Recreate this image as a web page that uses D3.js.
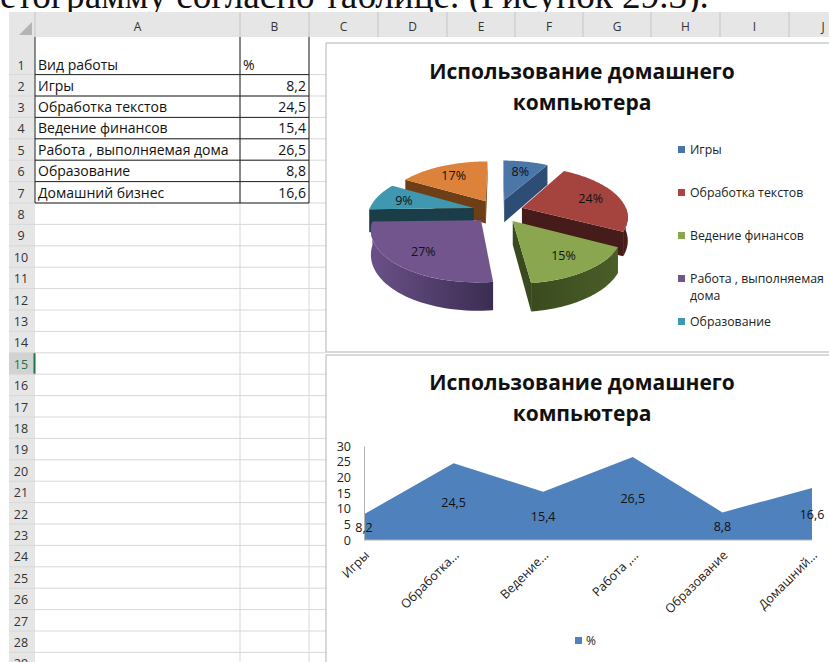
<!DOCTYPE html>
<html>
<head>
<meta charset="utf-8">
<script src="https://cdn.jsdelivr.net/npm/d3@7"></script>
<style>
  html, body { margin: 0; padding: 0; background: #fff; overflow: hidden; }
  text { font-family: "Open Sans", sans-serif; }
</style>
</head>
<body>
<div class="sheet"></div>
<script>
// chart data
const categories = ["Игры", "Обработка текстов", "Ведение финансов", "Работа , выполняемая дома", "Образование", "Домашний бизнес"];
const values = [8.2, 24.5, 15.4, 26.5, 8.8, 16.6];
const pctLabels = ["8%", "24%", "15%", "27%", "9%", "17%"];
const shortLabels = ["Игры", "Обработка…", "Ведение…", "Работа ,…", "Образование", "Домашний…"];
const legendRows = [["Игры"], ["Обработка текстов"], ["Ведение финансов"], ["Работа , выполняемая", "дома"], ["Образование"]];
const yTicks = [0, 5, 10, 15, 20, 25, 30];
const chartTitle = ["Использование домашнего", "компьютера"];
const seriesName = "%";
const colHeaders = ["A", "B", "C", "D", "E", "F", "G", "H", "I", "J"];
const colEdges = [35, 240, 309, 378, 447, 515, 583, 651, 720, 789, 857];
const rowNumbers = d3.range(2, 30);

const topColors = ["#4a76a8", "#a5443f", "#8aa64f", "#71558c", "#3f97b0", "#dc823a"];
const faceColors = ["#2e4d74", "#451c1a", "#3a4a1e", "#3b2d52", "#1b3d47", "#6e3f17"];
const wallLight = ["#3d6190", "#4e201d", "#4a5e28", "#6a5087", "#2a6b7e", "#9c5c26"];
const legendColors = ["#4674ab", "#b0413e", "#8aa64f", "#71558c", "#3f97b0"];

const w = 829;
const h = 662;
const svg = d3.select('.sheet')
    .append('svg')
    .attr('width', w)
    .attr('height', h)
    .style('display', 'block');

// line of the document above the sheet, cut off by the sheet header
svg.append("text")
    .text("етограмму согласно таблице. (Рисунок 29.3).")
    .attr("x", 0)
    .attr("y", 8)
    .attr("font-size", 37.2)
    .style("font-family", "'Liberation Serif', serif")
    .attr("fill", "#111");

// ---- spreadsheet ----
const rowH = 21.4;
// top edge of a row, row 1 is the tall one
const rowY = d3.scaleLinear().domain([2, 3]).range([74.6, 74.6 + rowH]);

svg.append("rect").attr("x", 0).attr("y", 12).attr("width", w).attr("height", h).attr("fill", "#fff");
svg.append("rect").attr("x", 9).attr("y", 12).attr("width", w).attr("height", 25).attr("fill", "#e6e6e6");
svg.append("rect").attr("x", 9).attr("y", 12).attr("width", 26).attr("height", h).attr("fill", "#e6e6e6");
svg.append("path").attr("d", "M32,22 L32,35 L19,35 Z").attr("fill", "#b4b4b4");

//selected row 15
svg.append("rect").attr("x", 9).attr("y", rowY(15)).attr("width", 26).attr("height", rowH).attr("fill", "#d2d2d2");
svg.append("line").attr("x1", 34.5).attr("x2", 34.5).attr("y1", rowY(15)).attr("y2", rowY(16)).attr("stroke", "#217346").attr("stroke-width", 2);

//header separators
svg.selectAll("line.colsep")
    .data(colEdges)
    .enter()
    .append("line")
    .attr("class", "colsep")
    .attr("x1", d => d).attr("x2", d => d)
    .attr("y1", 12).attr("y2", 37)
    .attr("stroke", "#c4c4c4");

svg.selectAll("text.colhead")
    .data(colHeaders)
    .enter()
    .append("text")
    .attr("class", "colhead")
    .text(d => d)
    .attr("x", (d, i) => (colEdges[i] + colEdges[i + 1]) / 2)
    .attr("y", 31)
    .attr("text-anchor", "middle")
    .attr("font-size", 12)
    .attr("fill", "#333");

// grid
svg.selectAll("line.vgrid")
    .data(colEdges.slice(1, 3))
    .enter()
    .append("line")
    .attr("class", "vgrid")
    .attr("x1", d => d).attr("x2", d => d)
    .attr("y1", 37).attr("y2", h)
    .attr("stroke", "#d8d8d8");

svg.selectAll("line.hgrid")
    .data(rowNumbers)
    .enter()
    .append("line")
    .attr("class", "hgrid")
    .attr("x1", 9).attr("x2", 326)
    .attr("y1", d => rowY(d)).attr("y2", d => rowY(d))
    .attr("stroke", "#d8d8d8");

svg.selectAll("text.rownum")
    .data([1].concat(rowNumbers))
    .enter()
    .append("text")
    .attr("class", "rownum")
    .text(d => d)
    .attr("x", 21)
    .attr("y", d => d == 1 ? 70 : rowY(d) + 16)
    .attr("text-anchor", "middle")
    .attr("font-size", 12.5)
    .attr("fill", d => d == 15 ? "#217346" : "#333");

// table
const tableRows = ["Вид работы"].concat(categories);
const tableNums = ["%"].concat(values.map(d => String(d).replace(".", ",")));

svg.selectAll("text.cella")
    .data(tableRows)
    .enter()
    .append("text")
    .attr("class", "cella")
    .text(d => d)
    .attr("x", 38)
    .attr("y", (d, i) => i == 0 ? 70 : rowY(i + 1) + 16)
    .attr("font-size", 14)
    .attr("fill", "#111");

svg.selectAll("text.cellb")
    .data(tableNums)
    .enter()
    .append("text")
    .attr("class", "cellb")
    .text(d => d)
    .attr("x", (d, i) => i == 0 ? 243 : 306)
    .attr("y", (d, i) => i == 0 ? 70 : rowY(i + 1) + 16)
    .attr("text-anchor", (d, i) => i == 0 ? "start" : "end")
    .attr("font-size", 14)
    .attr("fill", "#111");

svg.selectAll("line.border")
    .data(d3.range(2, 9))
    .enter()
    .append("line")
    .attr("class", "border")
    .attr("x1", 35).attr("x2", 309)
    .attr("y1", d => rowY(d)).attr("y2", d => rowY(d))
    .attr("stroke", "#222")
    .attr("stroke-width", 1);

svg.selectAll("line.vborder")
    .data([35, 240, 309])
    .enter()
    .append("line")
    .attr("class", "vborder")
    .attr("x1", d => d).attr("x2", d => d)
    .attr("y1", 37).attr("y2", rowY(8))
    .attr("stroke", "#222");

// ---- chart frames ----
[[43, 309], [355, 320]].forEach(function(b) {
    svg.append("rect")
        .attr("x", 326).attr("y", b[0])
        .attr("width", 520).attr("height", b[1])
        .attr("fill", "#fff")
        .attr("stroke", "#b4b4b4");
});

[72, 383].forEach(function(y0) {
    svg.append("g")
        .selectAll("text")
        .data(chartTitle)
        .enter()
        .append("text")
        .text(d => d)
        .attr("x", 582)
        .attr("y", (d, i) => y0 + i * 31 + 7)
        .attr("text-anchor", "middle")
        .attr("font-size", 21)
        .attr("font-weight", "bold")
        .attr("fill", "#111");
});

// ---- 3d pie ----
const cx = 498;
const cy = 211;
const rx = 105;
const ry = 49;
const depth = 23;
const explode = 0.24;
const persp = 0.16;

function project(u, v, z) {
    const s = 1 / (1 + persp * v);
    return [cx + u * s * rx, cy - v * s * ry + z * s * depth];
}

const slices = d3.pie().sort(null)(values).map(function(d, i) {
    const mid = (d.startAngle + d.endAngle) / 2;
    return {i: i, a0: d.startAngle, a1: d.endAngle, mid: mid,
            ox: explode * Math.sin(mid), oy: explode * Math.cos(mid)};
});

function rim(d, a, z) {
    return project(d.ox + Math.sin(a), d.oy + Math.cos(a), z);
}

const pathLine = d3.line();
const defs = svg.append("defs");

slices.forEach(function(d) {
    const grad = defs.append("linearGradient").attr("id", "wall" + d.i);
    grad.append("stop").attr("offset", "0%").attr("stop-color", d.i == 3 ? wallLight[3] : faceColors[d.i]);
    grad.append("stop").attr("offset", "100%").attr("stop-color", d.i == 3 ? faceColors[3] : wallLight[d.i]);
});

const pieG = svg.append("g");
const drawOrder = slices.slice().sort((a, b) => Math.cos(b.mid) - Math.cos(a.mid));

drawOrder.forEach(function(d) {
    const g = pieG.append("g");
    const apexTop = project(d.ox, d.oy, 0);
    const apexBot = project(d.ox, d.oy, 1);

    //flat cut faces, only when they look at the viewer
    [[d.a0, 1], [d.a1, -1]].forEach(function(f) {
        const quad = [apexTop, rim(d, f[0], 0), rim(d, f[0], 1), apexBot];
        if (d3.polygonArea(quad) * f[1] > 0) {
            g.append("path").attr("d", pathLine(quad) + "Z").attr("fill", faceColors[d.i]);
        }
    });

    //outer wall, front half only
    const wa0 = Math.max(d.a0, Math.PI / 2);
    const wa1 = Math.min(d.a1, Math.PI * 1.5);
    if (wa1 > wa0) {
        const steps = d3.range(0, 41).map(t => wa0 + (wa1 - wa0) * t / 40);
        const pts = steps.map(a => rim(d, a, 0)).concat(steps.slice().reverse().map(a => rim(d, a, 1)));
        g.append("path").attr("d", pathLine(pts) + "Z").attr("fill", "url(#wall" + d.i + ")");
    }

    //top
    const arcSteps = d3.range(0, 61).map(t => d.a0 + (d.a1 - d.a0) * t / 60);
    const top = [apexTop].concat(arcSteps.map(a => rim(d, a, 0)));
    g.append("path").attr("d", pathLine(top) + "Z").attr("fill", topColors[d.i]);
});

svg.selectAll("text.pct")
    .data(slices)
    .enter()
    .append("text")
    .attr("class", "pct")
    .text(d => pctLabels[d.i])
    .attr("x", d => project(d.ox + 0.72 * Math.sin(d.mid), d.oy + 0.72 * Math.cos(d.mid), 0)[0])
    .attr("y", d => project(d.ox + 0.72 * Math.sin(d.mid), d.oy + 0.72 * Math.cos(d.mid), 0)[1] + 5)
    .attr("text-anchor", "middle")
    .attr("font-size", 12.5)
    .attr("fill", "#111");

// legend of the pie
const legendY = [150, 193, 236, 279, 322];
legendRows.forEach(function(lines, i) {
    svg.append("rect")
        .attr("x", 678).attr("y", legendY[i] - 4)
        .attr("width", 7).attr("height", 7)
        .attr("fill", legendColors[i]);
    lines.forEach(function(t, j) {
        svg.append("text")
            .text(t)
            .attr("x", 690)
            .attr("y", legendY[i] + 4 + j * 17)
            .attr("font-size", 12.3)
            .attr("fill", "#222");
    });
});

// ---- area chart ----
const x = d3.scalePoint().domain(d3.range(categories.length)).range([364, 812]);
const y = d3.scaleLinear().domain([0, 30]).range([540, 446]);

svg.append("path")
    .datum(values)
    .attr("d", d3.area().x((d, i) => x(i)).y0(y(0)).y1(d => y(d)))
    .attr("fill", "#4f81bd");

const yAxis = svg.append("g")
    .attr("transform", "translate(364,0)")
    .call(d3.axisLeft(y).tickValues(yTicks).tickSize(0).tickPadding(13));
yAxis.select(".domain").attr("stroke", "#b4b4b4");
yAxis.selectAll("text").attr("font-size", 12.5).attr("fill", "#222").style("font-family", "'Open Sans', sans-serif");

svg.append("line")
    .attr("x1", 364).attr("x2", 812)
    .attr("y1", y(0)).attr("y2", y(0))
    .attr("stroke", "#b4b4b4");

svg.selectAll("text.xlab")
    .data(shortLabels)
    .enter()
    .append("text")
    .attr("class", "xlab")
    .text(d => d)
    .attr("text-anchor", "end")
    .attr("transform", (d, i) => "translate(" + (x(i) + 6) + ",556) rotate(-45)")
    .attr("font-size", 12.5)
    .attr("fill", "#222");

svg.selectAll("text.vlab")
    .data(values)
    .enter()
    .append("text")
    .attr("class", "vlab")
    .text(d => String(d).replace(".", ","))
    .attr("x", (d, i) => x(i))
    .attr("y", d => y(d / 2) + 5)
    .attr("text-anchor", "middle")
    .attr("font-size", 12.5)
    .attr("fill", "#111");

svg.append("rect").attr("x", 575).attr("y", 637).attr("width", 7).attr("height", 7).attr("fill", "#4f81bd");
svg.append("text").text(seriesName).attr("x", 586).attr("y", 645).attr("font-size", 12).attr("fill", "#222");
</script>
</body>
</html>
